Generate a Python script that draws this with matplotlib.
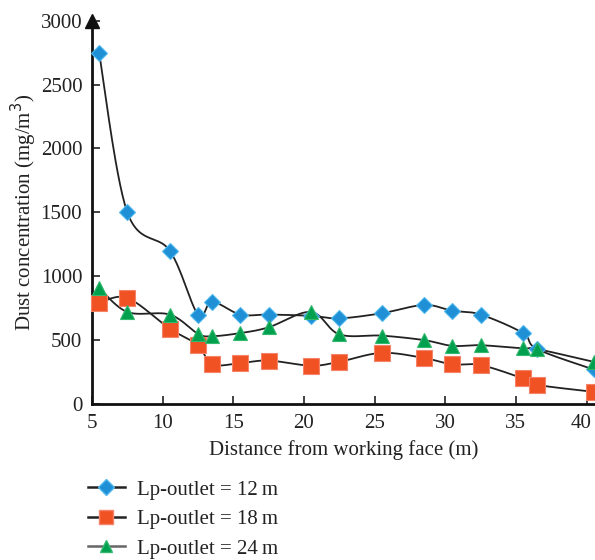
import numpy as np
import matplotlib
matplotlib.use("Agg")
import matplotlib.pyplot as plt
import matplotlib.transforms as mtransforms
from matplotlib.lines import Line2D

plt.rcParams['font.family'] = ['Liberation Serif', 'DejaVu Serif']

# measuring points (m) and dust concentration (mg/m3)
dist = [5.5, 7.5, 10.5, 12.5, 13.5, 15.5, 17.5, 20.5, 22.5, 25.5,
        28.5, 30.5, 32.5, 35.5, 36.5, 40.5]
conc_12 = [2750, 1500, 1200, 700, 800, 700, 700, 690, 670, 710,
           775, 730, 700, 555, 430, 270]
conc_18 = [790, 830, 590, 460, 310, 320, 340, 300, 330, 400,
           360, 310, 305, 200, 150, 95]
conc_24 = [910, 720, 700, 550, 530, 555, 600, 720, 545, 535,
           500, 455, 460, 435, 430, 330]
labels = ['Lp-outlet = 12\u2009m', 'Lp-outlet = 18\u2009m', 'Lp-outlet = 24\u2009m']

XLIM = (5, 40.6)
YLIM = (0, 3000)


def smooth(x, y, n=30):
    # Catmull-Rom curve through the points, computed in normalised axis units
    sx = (XLIM[1] - XLIM[0]) / 1.2
    sy = YLIM[1] - YLIM[0]
    p = np.column_stack([np.asarray(x, float) / sx, np.asarray(y, float) / sy])
    p = np.vstack([p[0], p, p[-1]])
    out = []
    for i in range(1, len(p) - 2):
        p0, p1, p2, p3 = p[i - 1], p[i], p[i + 1], p[i + 2]
        t = np.linspace(0, 1, n)[:, None]
        c = 0.5 * ((2 * p1) + (-p0 + p2) * t + (2 * p0 - 5 * p1 + 4 * p2 - p3) * t ** 2
                   + (-p0 + 3 * p1 - 3 * p2 + p3) * t ** 3)
        out.append(c)
    c = np.vstack(out)
    return c[:, 0] * sx, c[:, 1] * sy


fig = plt.figure(figsize=(5.95, 5.6), dpi=100)
ax = fig.add_axes([0.1546, 0.2786, 0.8454, 0.6845])

series = [
    (conc_12, 'D', '#1f8fd6', '#4fb8ee', 8),
    (conc_18, 's', '#f05224', '#f5836a', 11),
    (conc_24, '^', '#00a04e', '#33b86e', 10),
]
for vals, mk, fc, ec, ms in series:
    xs, ys = smooth(dist, vals)
    ax.plot(xs, ys, color='#222222', lw=1.3, zorder=2, clip_on=True)
    ax.plot(dist, vals, ls='none', marker=mk, ms=ms, mfc=fc, mec=ec, mew=0.8,
            zorder=3, clip_on=False)

ax.set_xlim(*XLIM)
ax.set_ylim(*YLIM)
ax.set_xticks(range(5, 41, 5))
ax.set_yticks(range(0, 3001, 500))
ax.tick_params(direction='in', length=6, width=1.2, labelsize=15, colors='#222222', pad=7)
for s in ['top', 'right']:
    ax.spines[s].set_visible(False)
for s in ['left', 'bottom']:
    ax.spines[s].set_linewidth(2)
    ax.spines[s].set_color('#111111')

# keep the last x tick label inside the figure
last = ax.get_xticklabels()[-1]
last.set_transform(last.get_transform() +
                   mtransforms.ScaledTranslation(-4 / 72, 0, fig.dpi_scale_trans))

# arrow head on the y axis
ax.plot([0], [1.0], marker='^', ms=10, color='#111111', transform=ax.transAxes, clip_on=False)

ax.set_xlabel('Distance from working face (m)', fontsize=15, color='#222222', labelpad=5)
ax.set_ylabel('Dust concentration (mg/m$^3$)', fontsize=15, color='#222222', labelpad=1)

handles = [
    Line2D([], [], color='#222222', lw=1.8, marker='D', ms=8, mfc='#1f8fd6', mec='#4fb8ee'),
    Line2D([], [], color='#222222', lw=1.8, marker='s', ms=10, mfc='#f05224', mec='#f5836a'),
    Line2D([], [], color='#666666', lw=1.8, marker='^', ms=9, mfc='#00a04e', mec='#33b86e'),
]
fig.legend(handles, labels, loc='upper left', bbox_to_anchor=(0.148, 0.143),
           frameon=False, fontsize=15, handlelength=1.75, handletextpad=0.6,
           labelspacing=0.48, borderpad=0, borderaxespad=0, labelcolor='#222222')

fig.savefig('out.png', dpi=100)
